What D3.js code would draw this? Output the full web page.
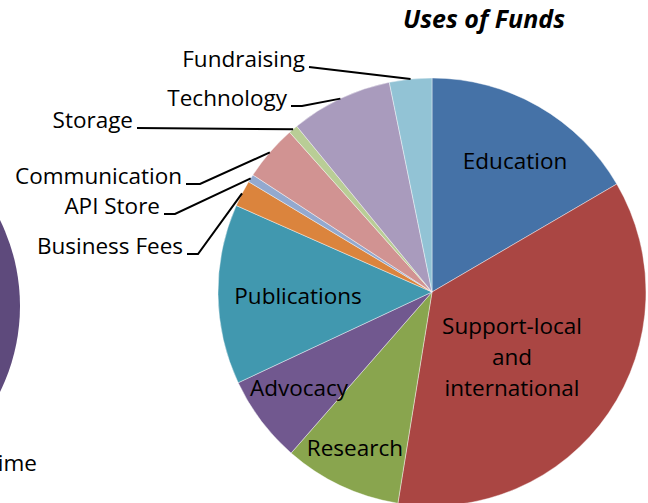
<!DOCTYPE html>
<html>
<head>
<meta charset="utf-8">
<script src="https://cdn.jsdelivr.net/npm/d3@7/dist/d3.min.js"></script>
<style>
  html, body { margin: 0; padding: 0; background: #fff; overflow: hidden; }
  svg { display: block; }
  text { font-family: "Open Sans", "DejaVu Sans", sans-serif; fill: #000; }
</style>
</head>
<body>
<svg id="chart" width="648" height="503"></svg>
<script>
// ---- data (percent of total) ----
const categories = ["Education", "Support-local and international", "Research", "Advocacy",
  "Publications", "Business Fees", "API Store", "Communication", "Storage", "Technology", "Fundraising"];
const values = [16.6, 36.0, 8.9, 6.6, 13.6, 2.0, 0.6, 4.2, 0.7, 7.7, 3.2];
const colors = ["#4572A7", "#AA4643", "#89A54E", "#71588F", "#4198AF", "#DB843D",
  "#93A9CF", "#D19392", "#B9CD96", "#A99BBD", "#92C3D5"];
const titleText = "Uses of Funds";

// partial neighbouring chart on the left (cut off in the picture)
const leftPieColor = "#5E4A7C";
const leftLabel = "time";

// ---- layout ----
const W = 648, H = 503;
const cx = 432, cy = 292, R = 214;
const FS = 22.5;

const svg = d3.select("#chart");

// left, cut-off chart
svg.append("circle").attr("cx", -175).attr("cy", 306).attr("r", 195).attr("fill", leftPieColor);
svg.append("text").attr("x", 37).attr("y", 463).attr("dy", "0.35em").attr("text-anchor", "end")
  .attr("font-size", FS).text(leftLabel);

const data = categories.map((c, i) => ({ name: c, value: values[i], color: colors[i] }));
const pie = d3.pie().value(d => d.value).sort(null).startAngle(0).endAngle(2 * Math.PI);
const arcs = pie(data);
const arc = d3.arc().innerRadius(0).outerRadius(R);
const edge = d3.arc().innerRadius(R).outerRadius(R);

const g = svg.append("g").attr("transform", `translate(${cx},${cy})`);
g.selectAll("path.slice").data(arcs).join("path")
  .attr("class", "slice")
  .attr("d", arc)
  .attr("fill", d => d.data.color)
  .attr("stroke", "rgba(255,255,255,0.6)")
  .attr("stroke-width", 0.7);

// in-slice labels (polar position: angle in degrees clockwise from top, radius)
const inside = {
  "Education": { a: 32.4, r: 155, lines: ["Education"] },
  "Support-local and international": { a: 129, r: 103, lines: ["Support-local", "and", "international"] },
  "Research": { a: 206.3, r: 174, lines: ["Research"] },
  "Advocacy": { a: 234.2, r: 164, lines: ["Advocacy"] },
  "Publications": { a: 268.3, r: 134, lines: ["Publications"] }
};
const lineH = 31;
arcs.forEach(d => {
  const s = inside[d.data.name];
  if (!s) return;
  const t = s.a * Math.PI / 180;
  const x = Math.sin(t) * s.r, y = -Math.cos(t) * s.r;
  const n = s.lines.length;
  const txt = g.append("text").attr("text-anchor", "middle").attr("font-size", FS);
  s.lines.forEach((l, i) => {
    txt.append("tspan").attr("x", x).attr("y", y + (i - (n - 1) / 2) * lineH).attr("dy", "0.35em").text(l);
  });
});

// outside labels with leader lines: text right edge and vertical centre (page coords)
const outside = {
  "Fundraising":   { tx: 305, ty: 59,  elbow: null },
  "Technology":    { tx: 287, ty: 98,  elbow: 302 },
  "Storage":       { tx: 133, ty: 120, elbow: null },
  "Communication": { tx: 182, ty: 176, elbow: 200 },
  "API Store":     { tx: 160, ty: 206, elbow: 175 },
  "Business Fees": { tx: 183, ty: 246, elbow: 198 }
};
arcs.forEach(d => {
  const s = outside[d.data.name];
  if (!s) return;
  const [ex, ey] = edge.centroid(d);
  const px = ex + cx, py = ey + cy;
  svg.append("text").attr("x", s.tx).attr("y", s.ty).attr("dy", "0.35em")
    .attr("text-anchor", "end").attr("font-size", FS).text(d.data.name);
  const sx = s.tx + 4, sy = s.ty + 8;
  const pts = s.elbow ? [[sx, sy], [s.elbow, sy], [px, py]] : [[sx, sy], [px, py]];
  svg.append("path").attr("d", d3.line()(pts))
    .attr("fill", "none").attr("stroke", "#000").attr("stroke-width", 2);
});

// title
svg.append("text").attr("x", 484).attr("y", 19).attr("dy", "0.35em")
  .attr("text-anchor", "middle").attr("font-size", 25)
  .attr("font-weight", "bold").attr("font-style", "italic").text(titleText);
</script>
</body>
</html>
